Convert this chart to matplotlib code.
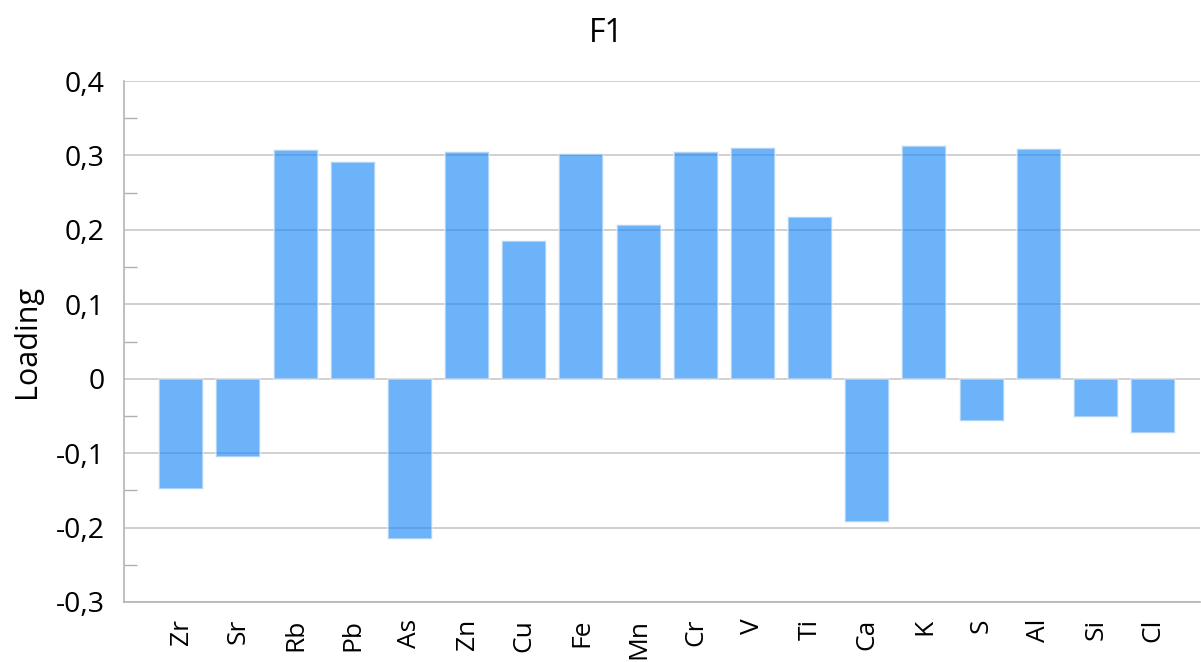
import matplotlib.pyplot as plt
import numpy as np
from matplotlib.ticker import MultipleLocator, FuncFormatter

elements = ["Zr", "Sr", "Rb", "Pb", "As", "Zn", "Cu", "Fe", "Mn",
            "Cr", "V", "Ti", "Ca", "K", "S", "Al", "Si", "Cl"]
loadings = [-0.148, -0.105, 0.307, 0.291, -0.215, 0.305, 0.185, 0.302, 0.207,
            0.305, 0.310, 0.217, -0.192, 0.313, -0.057, 0.309, -0.052, -0.073]

plt.rcParams['font.family'] = ['Open Sans', 'DejaVu Sans']

fig = plt.figure(figsize=(12.01, 6.62), dpi=100)
ax = fig.add_axes([124 / 1201, 1 - 602 / 662, (1200 - 124) / 1201, (602 - 81) / 662])

x = np.arange(len(elements))
ax.bar(x, loadings, width=0.77, color=(0.12, 0.54, 0.97), alpha=0.65,
       edgecolor='#e8eef6', linewidth=1.2, zorder=2)

ax.set_ylim(-0.3, 0.4)
ax.set_xlim(-1.0, 17.82)
ax.yaxis.set_major_locator(MultipleLocator(0.1))
ax.yaxis.set_minor_locator(MultipleLocator(0.05))
ax.yaxis.set_major_formatter(FuncFormatter(
    lambda v, p: "0" if abs(v) < 1e-9 else f"{v:.1f}".replace(".", ",")))
ax.grid(axis='y', which='major', color='#c8c8c8', linewidth=1.2, zorder=1)

ax.tick_params(axis='y', which='major', length=0, labelsize=20.5, pad=14)
ax.tick_params(axis='y', which='minor', direction='in', length=9,
               color='#b0b0b0', width=1)
ax.tick_params(axis='x', length=0, labelsize=19, pad=12)
ax.set_xticks(x)
ax.set_xticklabels(elements, rotation=90)

for side in ['top', 'right']:
    ax.spines[side].set_visible(False)
for side in ['left', 'bottom']:
    ax.spines[side].set_color('#b4b4b4')
    ax.spines[side].set_linewidth(1.2)

ax.set_ylabel("Loading", fontsize=22, labelpad=10)
fig.text(606 / 1201, 1 - 33 / 662, "F1", fontsize=23, ha='center', va='center')

fig.savefig("out.png", dpi=100)
